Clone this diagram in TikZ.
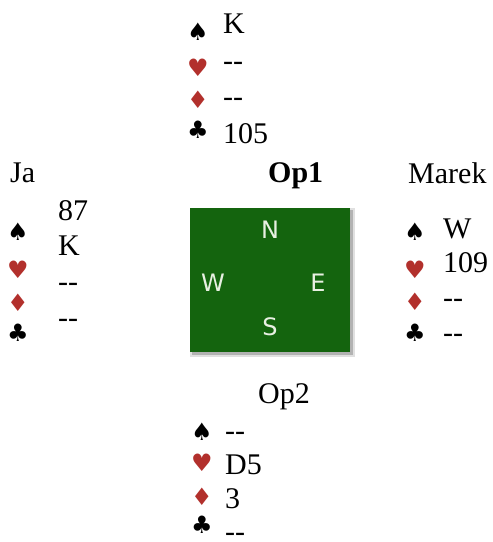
\documentclass[tikz,border=0pt]{standalone}
\usepackage{fontspec}
\setmainfont{Liberation Serif}
\newfontfamily\suitfont{DejaVu Sans}
\definecolor{cardred}{RGB}{178,48,44}
\definecolor{tablegreen}{RGB}{20,100,14}
\definecolor{chalk}{RGB}{232,240,226}
\newcommand\nocards{-{}-}
\tikzset{
  card/.style={anchor=base west, inner sep=0pt, font=\fontsize{30}{36}\selectfont},
  suit/.style={inner sep=0pt, font=\suitfont\fontsize{24}{24}\selectfont},
  compass/.style={inner sep=0pt, text=chalk, font=\suitfont\fontsize{24}{24}\selectfont},
  table/.style={fill=tablegreen, minimum width=160pt, minimum height=144pt, inner sep=0pt}
}
\begin{document}
\begin{tikzpicture}[x=1pt,y=-1pt]
\useasboundingbox (0,0) rectangle (493,542);

% players
\node[card] (ja) at (10,182) {Ja};
\node[card,font=\fontsize{30}{36}\selectfont\bfseries] (op1) at (268,182) {Op1};
\node[card] (marek) at (408,183) {Marek};
\node[card] (op2) at (258,403) {Op2};

% table
\fill[black!12] (190,208) rectangle (355,357);
\fill[black!30] (192,210) rectangle (353,355);
\node[table] (table) at (270,280) {};
\node[compass] (tn) at (270,230) {N};
\node[compass] (tw) at (213,283) {W};
\node[compass] (te) at (318,283) {E};
\node[compass] (ts) at (270,327) {S};

% north
\foreach \sym/\col/\ys/\yt/\txt [count=\i] in
  {♠/black/32/33/K, ♥/cardred/68/70/\nocards, ♦/cardred/100/106/\nocards, ♣/black/130/143/105}{
  \node[suit,text=\col] (ns\i) at (198,\ys) {\sym};
  \node[card] (nc\i) at (223,\yt) {\txt};
}
% west
\foreach \sym/\col/\ys/\yt/\txt [count=\i] in
  {♠/black/232/220/87, ♥/cardred/270/255/K, ♦/cardred/303/291/\nocards, ♣/black/333/327/\nocards}{
  \node[suit,text=\col] (ws\i) at (18,\ys) {\sym};
  \node[card] (wc\i) at (58,\yt) {\txt};
}
% east
\foreach \sym/\col/\ys/\yt/\txt [count=\i] in
  {♠/black/232/238/W, ♥/cardred/270/272/109, ♦/cardred/302/307/\nocards, ♣/black/333/342/\nocards}{
  \node[suit,text=\col] (es\i) at (415,\ys) {\sym};
  \node[card] (ec\i) at (443,\yt) {\txt};
}
% south
\foreach \sym/\col/\ys/\yt/\txt [count=\i] in
  {♠/black/432/440/\nocards, ♥/cardred/463/474/D5, ♦/cardred/497/508/3, ♣/black/525/541/\nocards}{
  \node[suit,text=\col] (ss\i) at (202,\ys) {\sym};
  \node[card] (sc\i) at (225,\yt) {\txt};
}
\end{tikzpicture}
\end{document}
